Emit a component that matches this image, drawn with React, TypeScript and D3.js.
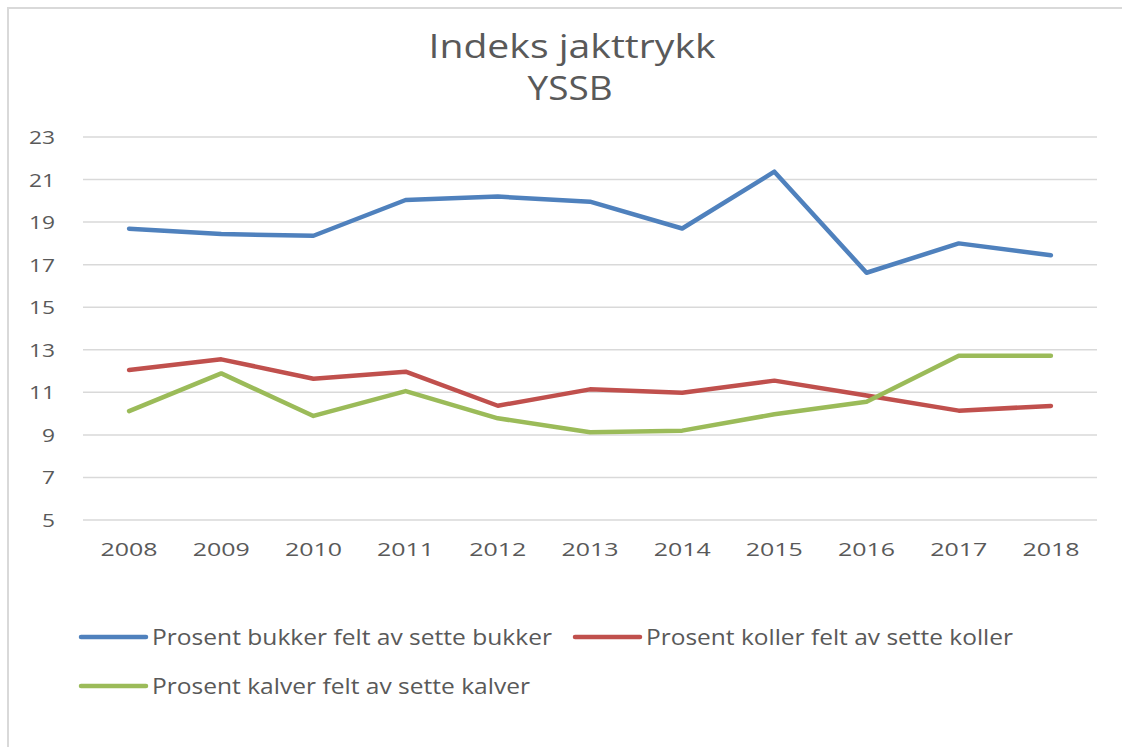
import React, { useEffect, useRef } from 'react';
import * as d3 from 'd3';

const years = ['2008', '2009', '2010', '2011', '2012', '2013', '2014', '2015', '2016', '2017', '2018'];
const bukker = [18.69, 18.44, 18.36, 20.04, 20.2, 19.96, 18.7, 21.37, 16.62, 18.0, 17.44];
const koller = [12.05, 12.55, 11.64, 11.97, 10.37, 11.14, 10.98, 11.55, 10.85, 10.14, 10.36];
const kalver = [10.12, 11.89, 9.89, 11.06, 9.78, 9.12, 9.2, 9.97, 10.56, 12.72, 12.72];
const yTicks = [5, 7, 9, 11, 13, 15, 17, 19, 21, 23];

const seriesNames = [
  'Prosent bukker felt av sette bukker',
  'Prosent koller felt av sette koller',
  'Prosent kalver felt av sette kalver',
];
const colors = ['#4f81bd', '#c0504d', '#9bbb59'];

const W = 1122;
const H = 747;
const FONT = '"Liberation Sans Narrow", "Open Sans", sans-serif';
const TICK_FONT = '"Open Sans", sans-serif';

const App = () => {
  const ref = useRef<SVGSVGElement>(null);

  useEffect(() => {
    const svg = d3.select(ref.current);
    svg.selectAll('*').remove();

    // frame (only top and left edges visible in the crop)
    svg.append('path')
      .attr('d', `M8,${H + 5}V8H${W + 5}`)
      .attr('fill', 'none')
      .attr('stroke', '#d9d9d9')
      .attr('stroke-width', 2);

    // title
    svg.append('text')
      .attr('x', 572).attr('y', 58)
      .attr('text-anchor', 'middle')
      .attr('font-family', FONT)
      .attr('font-size', 32)
      .attr('fill', '#595959')
      .attr('textLength', 287)
      .attr('lengthAdjust', 'spacingAndGlyphs')
      .text('Indeks jakttrykk');
    svg.append('text')
      .attr('x', 570).attr('y', 100)
      .attr('text-anchor', 'middle')
      .attr('font-family', FONT)
      .attr('font-size', 32)
      .attr('fill', '#595959')
      .attr('textLength', 85)
      .attr('lengthAdjust', 'spacingAndGlyphs')
      .text('YSSB');

    const x = d3.scaleBand().domain(years).range([83, 1097]);
    const y = d3.scaleLinear().domain([5, 23]).range([520, 137]);

    // gridlines
    svg.append('g')
      .selectAll('line')
      .data(yTicks)
      .join('line')
      .attr('x1', 83).attr('x2', 1097)
      .attr('y1', d => y(d)).attr('y2', d => y(d))
      .attr('stroke', '#d9d9d9')
      .attr('stroke-width', 1.5);

    // y labels
    svg.append('g')
      .selectAll('text')
      .data(yTicks)
      .join('text')
      .attr('x', 55)
      .attr('y', d => y(d) + 7)
      .attr('text-anchor', 'end')
      .attr('font-family', TICK_FONT)
      .attr('font-size', 19)
      .attr('fill', '#595959')
      .attr('textLength', d => String(d).length * 13)
      .attr('lengthAdjust', 'spacingAndGlyphs')
      .text(d => d);

    // x labels
    svg.append('g')
      .selectAll('text')
      .data(years)
      .join('text')
      .attr('x', d => x(d)! + x.bandwidth() / 2)
      .attr('y', 556)
      .attr('text-anchor', 'middle')
      .attr('font-family', TICK_FONT)
      .attr('font-size', 19)
      .attr('fill', '#595959')
      .attr('textLength', 57)
      .attr('lengthAdjust', 'spacingAndGlyphs')
      .text(d => d);

    const line = d3.line<number>()
      .x((_, i) => x(years[i])! + x.bandwidth() / 2)
      .y(d => y(d));

    [bukker, koller, kalver].forEach((vals, i) => {
      svg.append('path')
        .datum(vals)
        .attr('d', line)
        .attr('fill', 'none')
        .attr('stroke', colors[i])
        .attr('stroke-width', 4.5)
        .attr('stroke-linecap', 'round')
        .attr('stroke-linejoin', 'round');
    });

    // legend
    const legendPos = [
      { x: 81, y: 637, w: 400 },
      { x: 575, y: 637, w: 367 },
      { x: 81, y: 686, w: 378 },
    ];
    legendPos.forEach((p, i) => {
      svg.append('line')
        .attr('x1', p.x).attr('x2', p.x + 65)
        .attr('y1', p.y).attr('y2', p.y)
        .attr('stroke', colors[i])
        .attr('stroke-width', 4.5)
        .attr('stroke-linecap', 'round');
      svg.append('text')
        .attr('x', p.x + 71).attr('y', p.y + 8)
        .attr('font-family', FONT)
        .attr('font-size', 22)
        .attr('fill', '#595959')
        .attr('textLength', p.w)
        .attr('lengthAdjust', 'spacingAndGlyphs')
        .text(seriesNames[i]);
    });
  }, []);

  return (
    <svg
      ref={ref}
      width={W}
      height={H}
      style={{ display: 'block', position: 'absolute', left: 0, top: 0, background: '#fff' }}
    />
  );
};

export default App;
